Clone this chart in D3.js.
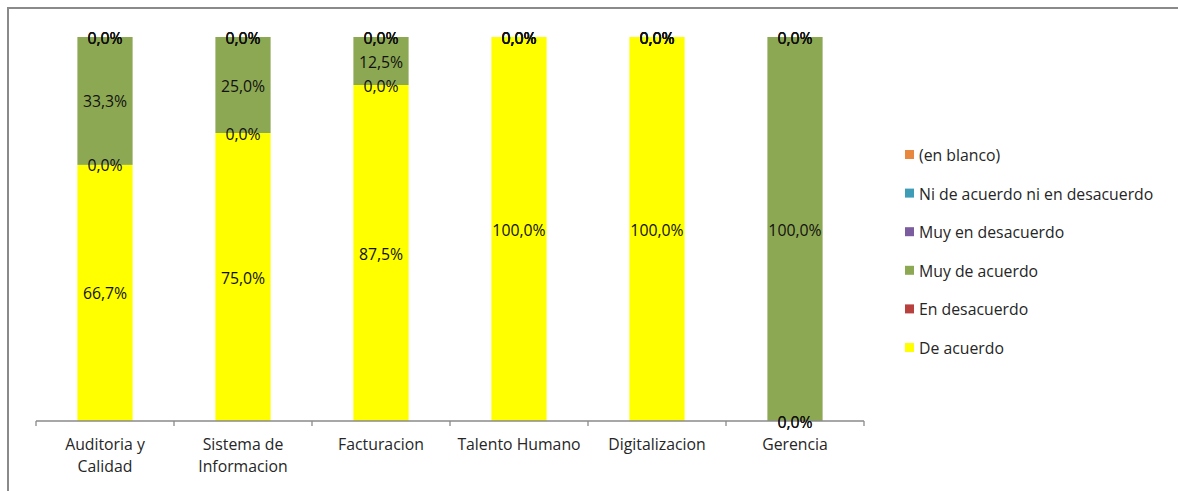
<!DOCTYPE html>
<html>
<head>
<meta charset="utf-8">
<script src="https://cdn.jsdelivr.net/npm/d3@7"></script>
<style>
  html, body { margin: 0; padding: 0; background: #fff; }
  svg { display: block; }
  text { font-family: "Open Sans", "Noto Sans", "Liberation Sans", sans-serif; }
</style>
</head>
<body>
<svg id="chart" width="1178" height="491"></svg>
<script>
// Categories (two-line labels where the axis wraps them)
const categories = ["Auditoria y Calidad", "Sistema de Informacion", "Facturacion", "Talento Humano", "Digitalizacion", "Gerencia"];
const categoryLines = [["Auditoria y", "Calidad"], ["Sistema de", "Informacion"], ["Facturacion"], ["Talento Humano"], ["Digitalizacion"], ["Gerencia"]];

// Series, bottom of the stack first (shares in %)
const seriesNames = ["De acuerdo", "En desacuerdo", "Muy de acuerdo", "Muy en desacuerdo", "Ni de acuerdo ni en desacuerdo", "(en blanco)"];
const deAcuerdo        = [66.7, 75.0, 87.5, 100.0, 100.0, 0.0];
const enDesacuerdo     = [0.0, 0.0, 0.0, 0.0, 0.0, 0.0];
const muyDeAcuerdo     = [33.3, 25.0, 12.5, 0.0, 0.0, 100.0];
const muyEnDesacuerdo  = [0.0, 0.0, 0.0, 0.0, 0.0, 0.0];
const niDeAcuerdo      = [0.0, 0.0, 0.0, 0.0, 0.0, 0.0];
const enBlanco         = [0.0, 0.0, 0.0, 0.0, 0.0, 0.0];
const seriesValues = [deAcuerdo, enDesacuerdo, muyDeAcuerdo, muyEnDesacuerdo, niDeAcuerdo, enBlanco];
const seriesColors = ["#FFFF00", "#B8403D", "#8DA853", "#7B5C9E", "#3E9CB6", "#E8883F"];

const FS = 15.8;
const svg = d3.select("#chart");

// outer frame of the chart area
svg.append("path")
  .attr("d", "M8,491 V8 H1178")
  .attr("fill", "none")
  .attr("stroke", "#8a8a8a")
  .attr("stroke-width", 2);

const plot = { left: 36, right: 864, top: 37, bottom: 421 };

const x = d3.scaleBand()
  .domain(categories)
  .range([plot.left, plot.right])
  .paddingInner(0.6)
  .paddingOuter(0.3);

const y = d3.scaleLinear()
  .domain([0, 100])
  .range([plot.bottom, plot.top]);

// table rows for d3.stack
const rows = categories.map((c, i) => {
  const r = { category: c };
  seriesNames.forEach((s, k) => { r[s] = seriesValues[k][i]; });
  return r;
});
const stacked = d3.stack().keys(seriesNames)(rows);

const fmt = v => v.toFixed(1).replace(".", ",") + "%";

// segments
const layers = svg.append("g").selectAll("g")
  .data(stacked)
  .join("g")
  .attr("fill", (d, k) => seriesColors[k]);

layers.selectAll("rect")
  .data(d => d)
  .join("rect")
  .attr("x", d => x(d.data.category))
  .attr("width", x.bandwidth())
  .attr("y", d => y(d[1]))
  .attr("height", d => y(d[0]) - y(d[1]));

// axis line and tick marks at category boundaries
const axisG = svg.append("g");
axisG.append("line")
  .attr("x1", plot.left).attr("x2", plot.right)
  .attr("y1", plot.bottom).attr("y2", plot.bottom)
  .attr("stroke", "#8a8a8a").attr("stroke-width", 1.3);
const bounds = d3.range(categories.length + 1).map(i => plot.left + i * (plot.right - plot.left) / categories.length);
axisG.selectAll("line.tick")
  .data(bounds)
  .join("line")
  .attr("class", "tick")
  .attr("x1", d => d).attr("x2", d => d)
  .attr("y1", plot.bottom).attr("y2", plot.bottom + 5)
  .attr("stroke", "#8a8a8a").attr("stroke-width", 1.3);

// category labels
const catLabels = axisG.selectAll("text.cat")
  .data(categories)
  .join("text")
  .attr("class", "cat")
  .attr("text-anchor", "middle")
  .attr("font-size", FS)
  .attr("fill", "#262626")
  .attr("x", d => x(d) + x.bandwidth() / 2)
  .attr("y", 450);
catLabels.each(function (d, i) {
  const t = d3.select(this);
  categoryLines[i].forEach((ln, j) => {
    t.append("tspan")
      .attr("x", x(d) + x.bandwidth() / 2)
      .attr("dy", j === 0 ? 0 : 22)
      .text(ln);
  });
});

// data labels centred on every segment (zero shares sit on the boundary)
const labelG = svg.append("g");
stacked.forEach(layer => {
  labelG.selectAll(null)
    .data(layer)
    .join("text")
    .attr("text-anchor", "middle")
    .attr("dominant-baseline", "central")
    .attr("font-size", FS)
    .attr("fill", "#111")
    .attr("x", d => x(d.data.category) + x.bandwidth() / 2)
    .attr("y", d => (y(d[0]) + y(d[1])) / 2 + 0.5)
    .text(d => fmt(d[1] - d[0]));
});

// legend, listed top-down in reverse stack order
const legendItems = seriesNames.map((s, k) => ({ name: s, color: seriesColors[k] })).reverse();
const legend = svg.append("g").attr("transform", "translate(905,155)");
const item = legend.selectAll("g")
  .data(legendItems)
  .join("g")
  .attr("transform", (d, i) => `translate(0,${i * 38.6})`);
item.append("rect")
  .attr("x", 0).attr("y", -5)
  .attr("width", 9).attr("height", 9)
  .attr("fill", d => d.color);
item.append("text")
  .attr("x", 14)
  .attr("y", 0)
  .attr("dominant-baseline", "central")
  .attr("font-size", FS)
  .attr("fill", "#262626")
  .text(d => d.name);
</script>
</body>
</html>
